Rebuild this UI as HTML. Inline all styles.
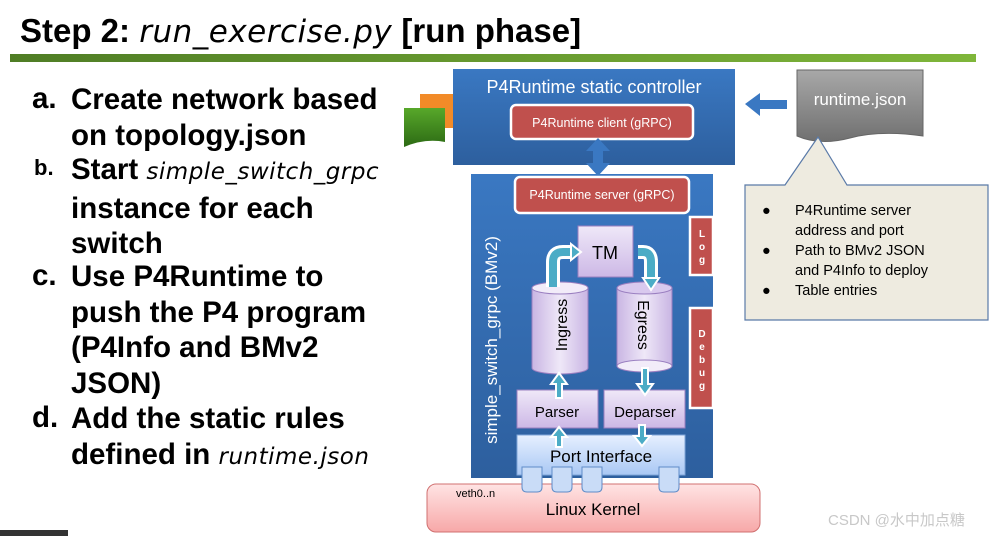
<!DOCTYPE html>
<html><head><meta charset="utf-8"><style>
html,body{margin:0;padding:0;background:#fff;width:996px;height:536px;overflow:hidden;position:relative;font-family:"Liberation Sans",sans-serif}
.t{position:absolute;white-space:nowrap;font-weight:bold;color:#000}
.sc{font-family:"DejaVu Sans",sans-serif;font-style:oblique;font-weight:normal}
</style></head><body>
<div class="t" style="left:20px;top:12px;font-size:33px">Step 2: <span class="sc" style="font-size:31px;letter-spacing:0.5px">run_exercise.py</span> [run phase]</div>
<div style="position:absolute;left:10px;top:54px;width:966px;height:8px;background:linear-gradient(90deg,#4f7d25,#7fb63a)"></div>
<div class="t" style="left:32px;top:82px;font-size:29.5px">a.</div>
<div class="t" style="left:71px;top:82px;font-size:29.5px;line-height:35.5px">Create network based<br>on topology.json</div>
<div class="t" style="left:34px;top:155px;font-size:22px">b.</div>
<div class="t" style="left:71px;top:152px;font-size:29.5px;line-height:35.5px">Start <span class="sc" style="font-size:23px;letter-spacing:0.5px">simple_switch_grpc</span><br>instance for each<br>switch</div>
<div class="t" style="left:32px;top:259px;font-size:29.5px">c.</div>
<div class="t" style="left:71px;top:259px;font-size:29.5px;line-height:35.5px">Use P4Runtime to<br>push the P4 program<br>(P4Info and BMv2<br>JSON)</div>
<div class="t" style="left:32px;top:401px;font-size:29.5px">d.</div>
<div class="t" style="left:71px;top:401px;font-size:29.5px;line-height:35.5px">Add the static rules<br>defined in <span class="sc" style="font-size:23px;letter-spacing:0.5px">runtime.json</span></div>
<div style="position:absolute;left:0;top:530px;width:68px;height:6px;background:#333"></div>

<svg width="996" height="536" style="position:absolute;left:0;top:0" font-family="Liberation Sans, sans-serif">
<defs>
<linearGradient id="blue" x1="0" y1="0" x2="0" y2="1"><stop offset="0" stop-color="#3a78c2"/><stop offset="1" stop-color="#2d5f9e"/></linearGradient>
<linearGradient id="purp" x1="0" y1="0" x2="0" y2="1"><stop offset="0" stop-color="#efe8f8"/><stop offset="1" stop-color="#cdb8e6"/></linearGradient>
<linearGradient id="cyl" x1="0" y1="0" x2="1" y2="0"><stop offset="0" stop-color="#c9b5e3"/><stop offset=".5" stop-color="#efe8f8"/><stop offset="1" stop-color="#c9b5e3"/></linearGradient>
<linearGradient id="port" x1="0" y1="0" x2="0" y2="1"><stop offset="0" stop-color="#e6f0ff"/><stop offset="1" stop-color="#a9c8f4"/></linearGradient>
<linearGradient id="kern" x1="0" y1="0" x2="0" y2="1"><stop offset="0" stop-color="#ffe4e4"/><stop offset="1" stop-color="#f7a8a8"/></linearGradient>
<linearGradient id="gray" x1="0" y1="0" x2="0" y2="1"><stop offset="0" stop-color="#a8a8a8"/><stop offset="1" stop-color="#707070"/></linearGradient>
<linearGradient id="grn" x1="0" y1="0" x2="0" y2="1"><stop offset="0" stop-color="#58a82a"/><stop offset="1" stop-color="#2c6a14"/></linearGradient>
</defs>
<rect x="420" y="94" width="40" height="34" fill="#f28b28"/>
<path d="M404 108 H445 V142 Q425 138 404 147 Z" fill="url(#grn)"/>
<rect x="453" y="69" width="282" height="96" fill="url(#blue)"/>
<text x="594" y="93" fill="#fff" font-size="18" text-anchor="middle">P4Runtime static controller</text>
<rect x="511" y="105" width="182" height="34" rx="5" fill="#c0504d" stroke="#fff" stroke-width="2.5"/>
<text x="602" y="127" fill="#fff" font-size="12.5" text-anchor="middle">P4Runtime client (gRPC)</text>
<rect x="471" y="174" width="242" height="304" fill="url(#blue)"/>
<path d="M598 138 L610 151 L603 151 L603 163 L610 163 L598 176 L586 163 L593 163 L593 151 L586 151 Z" fill="#3a78c2"/>
<rect x="515" y="177" width="174" height="36" rx="5" fill="#c0504d" stroke="#fff" stroke-width="2.5"/>
<text x="602" y="199" fill="#fff" font-size="12.5" text-anchor="middle">P4Runtime server (gRPC)</text>
<text transform="translate(497,340) rotate(-90)" fill="#fff" font-size="17" text-anchor="middle">simple_switch_grpc  (BMv2)</text>
<rect x="690" y="217" width="23" height="58" fill="#c0504d" stroke="#fff" stroke-width="2.5"/>
<text x="702" y="237" fill="#fff" font-size="10" font-weight="bold" text-anchor="middle">L</text>
<text x="702" y="250" fill="#fff" font-size="10" font-weight="bold" text-anchor="middle">o</text>
<text x="702" y="263" fill="#fff" font-size="10" font-weight="bold" text-anchor="middle">g</text>
<rect x="690" y="308" width="23" height="100" fill="#c0504d" stroke="#fff" stroke-width="2.5"/>
<text x="702" y="337" fill="#fff" font-size="10" font-weight="bold" text-anchor="middle">D</text>
<text x="702" y="350" fill="#fff" font-size="10" font-weight="bold" text-anchor="middle">e</text>
<text x="702" y="363" fill="#fff" font-size="10" font-weight="bold" text-anchor="middle">b</text>
<text x="702" y="376" fill="#fff" font-size="10" font-weight="bold" text-anchor="middle">u</text>
<text x="702" y="389" fill="#fff" font-size="10" font-weight="bold" text-anchor="middle">g</text>
<rect x="578" y="226" width="55" height="51" fill="url(#purp)" stroke="#9a7fc0"/>
<text x="605" y="259" font-size="18" text-anchor="middle">TM</text>
<path d="M532 288 V368 A28 6 0 0 0 588 368 V288" fill="url(#cyl)" stroke="#9a7fc0"/>
<ellipse cx="560" cy="288" rx="28" ry="6" fill="#f2ecf9" stroke="#9a7fc0"/>
<text transform="translate(567,325) rotate(-90)" font-size="16" text-anchor="middle">Ingress</text>
<path d="M617 288 V366 A28 6 0 0 0 672 366 V288" fill="url(#cyl)" stroke="#9a7fc0"/>
<ellipse cx="644.5" cy="288" rx="27.5" ry="6" fill="#d9c9ee" stroke="#9a7fc0"/>
<ellipse cx="644.5" cy="366" rx="27.5" ry="6" fill="#f2ecf9" stroke="#9a7fc0"/>
<text transform="translate(638,325) rotate(90)" font-size="16" text-anchor="middle">Egress</text>
<path d="M553 287 V262 Q553 252 563 252 H574" fill="none" stroke="#fff" stroke-width="14"/>
<path d="M553 287 V262 Q553 252 563 252 H574" fill="none" stroke="#4bacc6" stroke-width="8"/>
<path d="M571 244 L581 252 L571 260 Z" fill="#4bacc6" stroke="#fff" stroke-width="2"/>
<path d="M638 252 H643 Q651 252 651 262 V280" fill="none" stroke="#fff" stroke-width="14"/>
<path d="M638 252 H643 Q651 252 651 262 V280" fill="none" stroke="#4bacc6" stroke-width="8"/>
<path d="M643 278 L651 290 L659 278 Z" fill="#4bacc6" stroke="#fff" stroke-width="2"/>
<rect x="517" y="390" width="81" height="38" fill="url(#purp)" stroke="#9a7fc0"/>
<text x="557" y="417" font-size="15" text-anchor="middle">Parser</text>
<rect x="604" y="390" width="81" height="38" fill="url(#purp)" stroke="#9a7fc0"/>
<text x="645" y="417" font-size="15" text-anchor="middle">Deparser</text>
<rect x="427" y="484" width="333" height="48" rx="9" fill="url(#kern)" stroke="#d07070"/>
<text x="456" y="497" font-size="11">veth0..n</text>
<text x="593" y="515" font-size="17" text-anchor="middle">Linux Kernel</text>
<rect x="517" y="435" width="168" height="40" fill="url(#port)" stroke="#7fa5d8"/>
<text x="601" y="462" font-size="17" text-anchor="middle">Port Interface</text>
<g fill="#c9dcf7" stroke="#5f8cc8">
<path d="M522 467 h20 v20 q0 5 -5 5 h-10 q-5 0 -5 -5 Z"/>
<path d="M552 467 h20 v20 q0 5 -5 5 h-10 q-5 0 -5 -5 Z"/>
<path d="M582 467 h20 v20 q0 5 -5 5 h-10 q-5 0 -5 -5 Z"/>
<path d="M659 467 h20 v20 q0 5 -5 5 h-10 q-5 0 -5 -5 Z"/>
</g>
<g fill="#4bacc6" stroke="#fff" stroke-width="2">
<path d="M556 398 V384 H551 L559 373 L567 384 H562 V398 Z"/>
<path d="M556 447 V437 H551 L559 427 L567 437 H562 V447 Z"/>
<path d="M642 368 V384 H637 L645 395 L653 384 H648 V368 Z"/>
<path d="M639 425 V436 H634 L642 446 L650 436 H645 V425 Z"/>
</g>
<path d="M745 104 L760 93 V100 H787 V109 H760 V116 Z" fill="#3a78c2"/>
<path d="M797 70 H923 V136 Q880 130 850 138 Q820 146 797 136 Z" fill="url(#gray)" stroke="#666"/>
<text x="860" y="105" fill="#fff" font-size="17" text-anchor="middle">runtime.json</text>
<path d="M745 185 H785 L818 137 L847 185 H988 V320 H745 Z" fill="#eeebe0" stroke="#5a7aa8" stroke-width="1.2"/>
<g font-size="14.5">
<text x="762" y="215">●</text><text x="795" y="215">P4Runtime server</text>
<text x="795" y="235">address and port</text>
<text x="762" y="255">●</text><text x="795" y="255">Path to BMv2 JSON</text>
<text x="795" y="275">and P4Info to deploy</text>
<text x="762" y="295">●</text><text x="795" y="295">Table entries</text>
</g>
<text x="828" y="525" fill="#c8c8c8" font-size="15" font-family="Liberation Sans, Noto Sans CJK SC, sans-serif">CSDN @水中加点糖</text>
</svg>
</body></html>
